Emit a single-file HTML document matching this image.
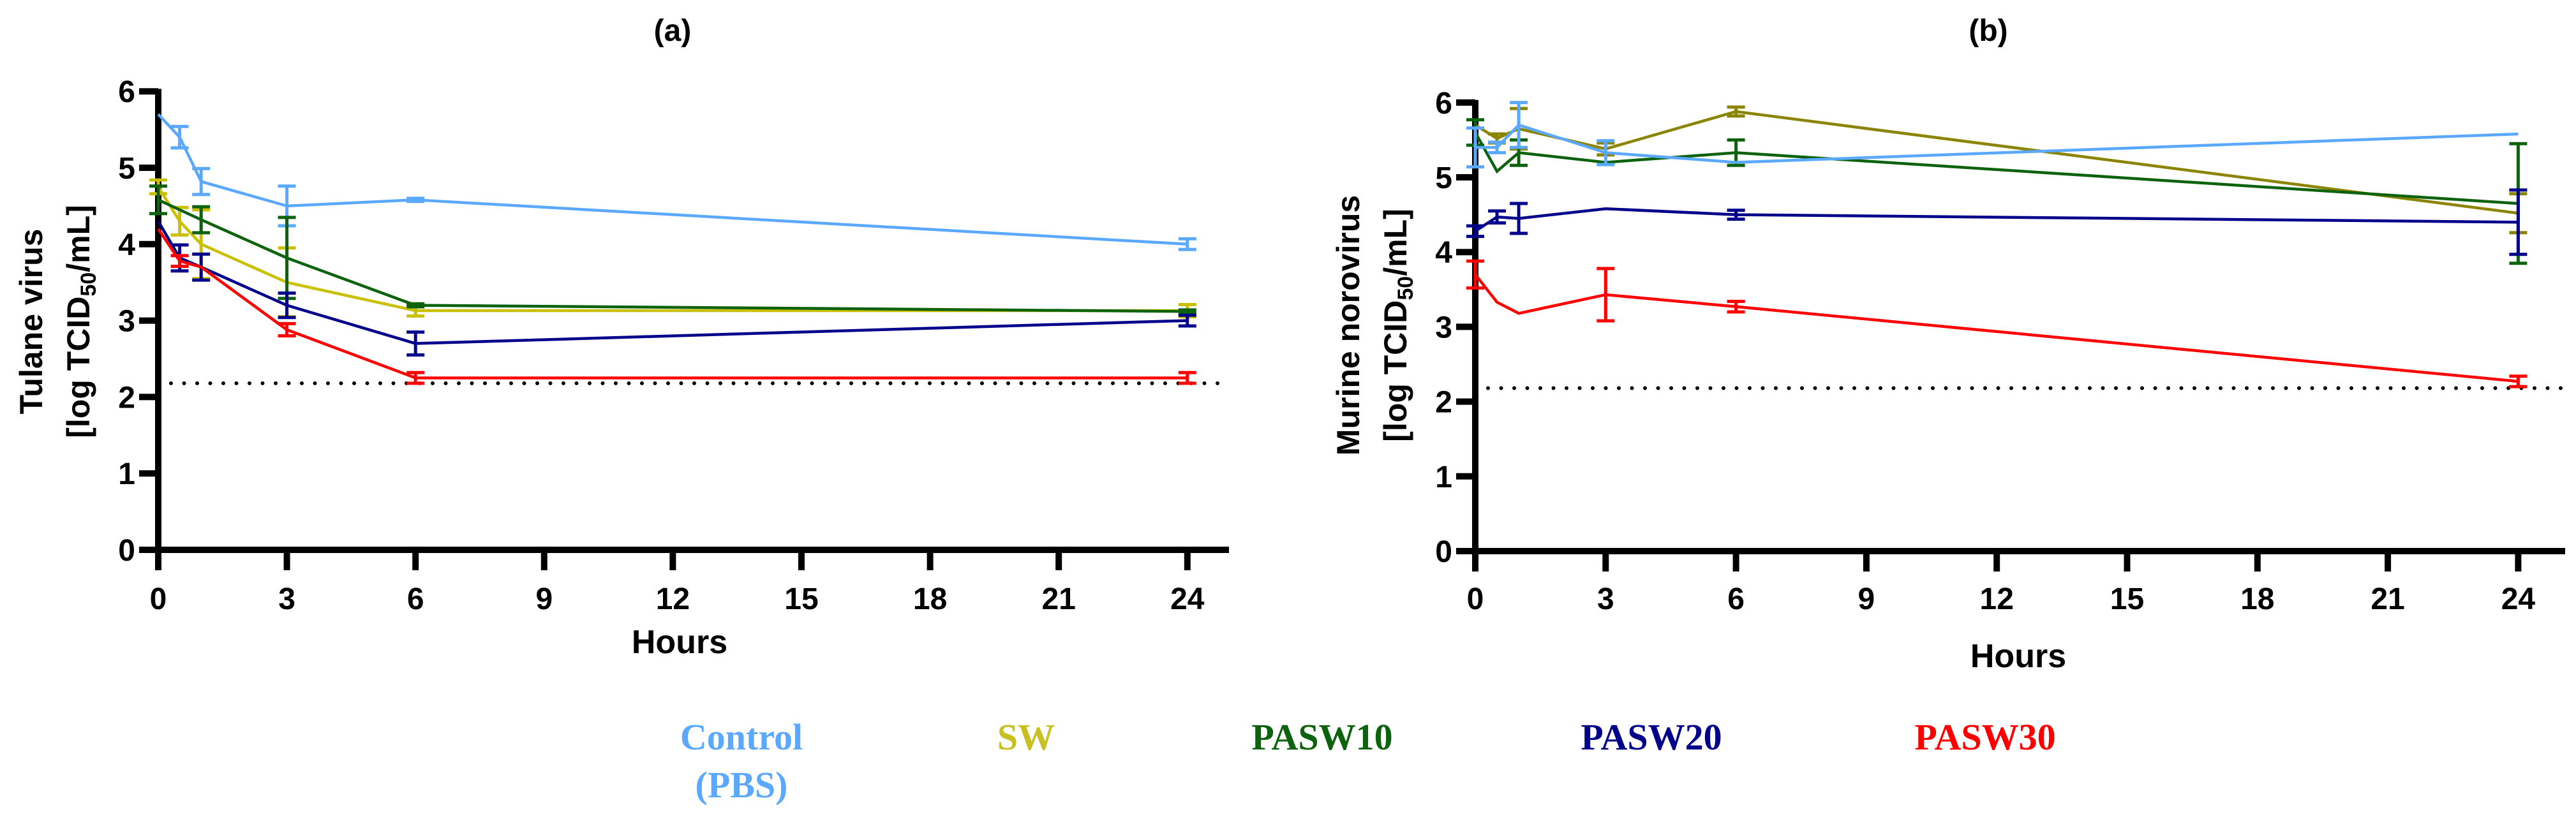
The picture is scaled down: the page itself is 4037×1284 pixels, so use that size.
<!DOCTYPE html>
<html><head><meta charset="utf-8"><style>
html,body{margin:0;padding:0;background:#fff}
svg{display:block}
text{font-family:"Liberation Sans",sans-serif;font-weight:bold}
.leg{font-family:"Liberation Serif",serif;font-weight:bold;font-size:58px}
</style></head><body>
<svg id="fig" width="4037" height="1284" viewBox="0 0 4037 1284" xmlns="http://www.w3.org/2000/svg">
<g id="pa"></g>
<g id="pb"></g>
<g>
<text class="leg" x="1162" y="1175" text-anchor="middle" fill="#5aa9ff">Control</text>
<text class="leg" x="1162" y="1250" text-anchor="middle" fill="#5aa9ff">(PBS)</text>
<text class="leg" x="1608" y="1175" text-anchor="middle" fill="#c8c020">SW</text>
<text class="leg" x="2072" y="1175" text-anchor="middle" fill="#0d620d">PASW10</text>
<text class="leg" x="2588" y="1175" text-anchor="middle" fill="#00008b">PASW20</text>
<text class="leg" x="3111" y="1175" text-anchor="middle" fill="#ff0000">PASW30</text>
</g>
</svg>
<script>
const hours = [0, 0.5, 1, 3, 6, 24];
const xTicks = [0, 3, 6, 9, 12, 15, 18, 21, 24];
const yTicks = [0, 1, 2, 3, 4, 5, 6];
const seriesNames = ["Control (PBS)", "SW", "PASW10", "PASW20", "PASW30"];
const detectionLimit = 2.18;
// Panel A: Tulane virus
const aControl = [5.7, 5.4, 4.82, 4.5, 4.58, 4.0];
const aControlErr = [0, 0.14, 0.17, 0.26, 0.02, 0.07];
const aSW = [4.75, 4.3, 4.0, 3.5, 3.13, 3.13];
const aSWErr = [0.09, 0.18, 0.45, 0.45, 0.07, 0.08];
const aPASW10 = [4.58, 4.45, 4.32, 3.82, 3.2, 3.12];
const aPASW10Err = [0.18, 0, 0.17, 0.53, 0.02, 0.02];
const aPASW20 = [4.3, 3.82, 3.7, 3.2, 2.7, 3.0];
const aPASW20Err = [0, 0.17, 0.17, 0.16, 0.15, 0.07];
const aPASW30 = [4.2, 3.78, 3.7, 2.88, 2.25, 2.25];
const aPASW30Err = [0, 0.07, 0, 0.08, 0.07, 0.07];
// Panel B: Murine norovirus
const bControl = [5.4, 5.4, 5.7, 5.33, 5.2, 5.58];
const bControlErr = [0.26, 0.07, 0.3, 0.16, 0, 0];
const bSW = [5.7, 5.52, 5.65, 5.38, 5.88, 4.52];
const bSWErr = [0, 0.06, 0.27, 0.08, 0.06, 0.26];
const bPASW10 = [5.6, 5.08, 5.33, 5.2, 5.33, 4.65];
const bPASW10Err = [0.17, 0, 0.17, 0, 0.17, 0.8];
const bPASW20 = [4.28, 4.47, 4.45, 4.58, 4.5, 4.4];
const bPASW20Err = [0.07, 0.08, 0.2, 0, 0.06, 0.43];
const bPASW30 = [3.7, 3.33, 3.18, 3.43, 3.27, 2.27];
const bPASW30Err = [0.18, 0, 0, 0.35, 0.07, 0.07];

const NS = "http://www.w3.org/2000/svg";
function mk(parent, tag, attrs, txt) {
  const e = document.createElementNS(NS, tag);
  for (const k in attrs) e.setAttribute(k, attrs[k]);
  if (txt !== undefined) e.textContent = txt;
  parent.appendChild(e);
  return e;
}
function panel(g, cfg, series) {
  const X = h => cfg.x0 + h * cfg.xs;
  const Y = v => cfg.y0 - v * cfg.ys;
  const ya = mk(g, "line", {x1: cfg.x0, y1: Y(6) - 4, x2: cfg.x0, y2: cfg.y0 + 5, stroke: "#000", "stroke-width": 10});
  
  
  const xa = mk(g, "line", {x1: cfg.x0 - 5, y1: cfg.y0, x2: cfg.xEnd, y2: cfg.y0, stroke: "#000", "stroke-width": 10});
  
  
  yTicks.forEach(v => {
    const t = mk(g, "line", {x1: cfg.x0 - 30, y1: Y(v), x2: cfg.x0, y2: Y(v), stroke: "#000", "stroke-width": 10});
    
    
    const l = mk(g, "text", {x: cfg.x0 - 36, y: Y(v) + 17, "text-anchor": "end", "font-size": 48}, String(v));
    
    
  });
  xTicks.forEach(h => {
    const t = mk(g, "line", {x1: X(h), y1: cfg.y0, x2: X(h), y2: cfg.y0 + 32, stroke: "#000", "stroke-width": 10});
    
    
    const l = mk(g, "text", {x: X(h), y: 955, "text-anchor": "middle", "font-size": 48}, String(h));
    
    
  });
  const dl = mk(g, "line", {x1: cfg.x0 + 20, y1: Y(detectionLimit), x2: cfg.xEnd, y2: Y(detectionLimit), stroke: "#000", "stroke-width": 6, "stroke-dasharray": "0 20.5", "stroke-linecap": "round"});
  
  
  series.forEach((s, si) => {
    const sg = mk(g, "g", {});
    
    
    const pts = hours.map((h, i) => X(h) + "," + Y(s.vals[i])).join(" ");
    const pl = mk(sg, "polyline", {points: pts, fill: "none", stroke: s.color, "stroke-width": 4.5});
    
    
    hours.forEach((h, i) => {
      const e = s.err[i];
      if (!e) return;
      const x = X(h), hi = Y(s.vals[i] + e), lo = Y(s.vals[i] - e);
      const eb = mk(sg, "path", {d: `M${x},${hi}V${lo}M${x-14},${hi}H${x+14}M${x-14},${lo}H${x+14}`, fill: "none", stroke: s.color, "stroke-width": 5});
      
      
    });
  });
  const t = mk(g, "text", {x: cfg.titleX, y: 64, "text-anchor": "middle", "font-size": 48}, cfg.title);
  
  
  const xt = mk(g, "text", {x: cfg.hoursX, y: cfg.hoursY, "text-anchor": "middle", "font-size": 52}, "Hours");
  
  
  const yt = mk(g, "text", {transform: `translate(${cfg.ylx},${cfg.yly}) rotate(-90)`, "text-anchor": "middle", "font-size": 50});
  
  
  mk(yt, "tspan", {x: 0, y: 0}, cfg.ylab);
  mk(yt, "tspan", {x: 0, y: 74}, "[log TCID");
  mk(yt, "tspan", {"font-size": 34, dy: 10}, "50");
  mk(yt, "tspan", {dy: -10}, "/mL]");
}
const cols = {c: "#5aa9ff", swA: "#c8c000", swB: "#8a8400", p10: "#0d620d", p20: "#00008b", p30: "#ff0000"};
panel(document.getElementById("pa"),
  {x0: 248, xs: 67.2, y0: 862, ys: 119.8, xEnd: 1926, title: "(a)", titleX: 1054, hoursX: 1065, hoursY: 1024, ylab: "Tulane virus", ylx: 66, yly: 504},
  [{key: "control", vals: aControl, err: aControlErr, color: cols.c},
   {key: "sw", vals: aSW, err: aSWErr, color: cols.swA},
   {key: "pasw10", vals: aPASW10, err: aPASW10Err, color: cols.p10},
   {key: "pasw20", vals: aPASW20, err: aPASW20Err, color: cols.p20},
   {key: "pasw30", vals: aPASW30, err: aPASW30Err, color: cols.p30}]);
panel(document.getElementById("pb"),
  {x0: 2312, xs: 68.1, y0: 864, ys: 117.2, xEnd: 4020, title: "(b)", titleX: 3116, hoursX: 3163, hoursY: 1046, ylab: "Murine norovirus", ylx: 2130, yly: 510},
  [{key: "sw", vals: bSW, err: bSWErr, color: cols.swB},
   {key: "pasw10", vals: bPASW10, err: bPASW10Err, color: cols.p10},
   {key: "control", vals: bControl, err: bControlErr, color: cols.c},
   {key: "pasw20", vals: bPASW20, err: bPASW20Err, color: cols.p20},
   {key: "pasw30", vals: bPASW30, err: bPASW30Err, color: cols.p30}]);
</script>
</body></html>
